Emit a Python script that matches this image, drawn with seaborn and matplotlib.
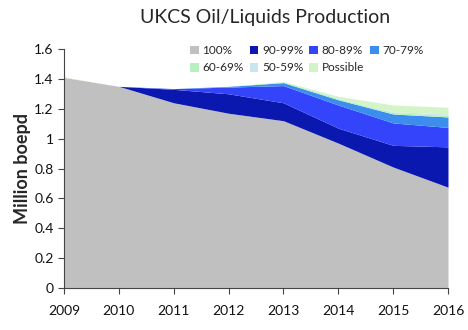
import matplotlib
matplotlib.use("Agg")
import matplotlib.pyplot as plt
import seaborn as sns
import pandas as pd
from matplotlib.ticker import FuncFormatter
from matplotlib.patches import Patch

years = [2009, 2010, 2011, 2012, 2013, 2014, 2015, 2016]
p100 = [1.41, 1.35, 1.24, 1.17, 1.12, 0.97, 0.81, 0.675]
p90_99 = [0.0, 0.0, 0.09, 0.13, 0.12, 0.10, 0.145, 0.27]
p80_89 = [0.0, 0.0, 0.005, 0.045, 0.115, 0.155, 0.15, 0.13]
p70_79 = [0.0, 0.0, 0.0, 0.005, 0.02, 0.035, 0.06, 0.07]
p60_69 = [0.0, 0.0, 0.0, 0.0, 0.005, 0.008, 0.01, 0.01]
p50_59 = [0.0, 0.0, 0.0, 0.0, 0.0, 0.003, 0.005, 0.01]
possible = [0.003, 0.0, 0.0, 0.0, 0.003, 0.012, 0.045, 0.045]
labels = ["100%", "90-99%", "80-89%", "70-79%", "60-69%", "50-59%", "Possible"]
colors = ["#C0C0C0", "#0A18B0", "#3444FA", "#3C8EEE", "#B6F0BE", "#C8E6EC", "#D2F4C6"]

df = pd.DataFrame({"year": years, "100%": p100, "90-99%": p90_99, "80-89%": p80_89,
                   "70-79%": p70_79, "60-69%": p60_69, "50-59%": p50_59, "Possible": possible})

sns.set_style("ticks")
plt.rcParams['font.family'] = ['Lato', 'DejaVu Sans']

fig = plt.figure(figsize=(4.68, 3.30), dpi=100)
ax = fig.add_axes([64/468, 1-288/330, (448-64)/468, (288-49)/330])

ax.stackplot(df["year"], [df[l] for l in labels], colors=colors, linewidth=0)

ax.set_xlim(2009, 2016)
ax.set_ylim(0, 1.6)
ax.set_xticks(years)
ax.set_yticks([0, 0.2, 0.4, 0.6, 0.8, 1.0, 1.2, 1.4, 1.6])
ax.yaxis.set_major_formatter(FuncFormatter(lambda v, p: f"{v:g}"))
ax.tick_params(axis='both', labelsize=10, length=4, width=0.8, color="#444444", labelcolor="#111111")
ax.tick_params(axis='x', pad=8)
sns.despine(ax=ax)
for s in ["left", "bottom"]:
    ax.spines[s].set_color("#444444")
    ax.spines[s].set_linewidth(0.8)

ax.set_ylabel("Million boepd", fontsize=13, fontweight="bold", labelpad=2)
fig.text(265/468, 1-18/330, "UKCS Oil/Liquids Production", ha="center", va="center", fontsize=14)

# legend filled row-wise: reorder for column-major filling
order = [0, 4, 1, 5, 2, 6, 3]
handles = [Patch(facecolor=colors[i], edgecolor="none") for i in order]
leg_labels = [labels[i] for i in order]
leg = fig.legend(handles, leg_labels, ncol=4, loc="upper left", bbox_to_anchor=(190/468, 1-45/330),
                 frameon=False, fontsize=8.5, handlelength=0.75, handleheight=0.75,
                 handletextpad=0.3, columnspacing=0.5, labelspacing=0.55, borderaxespad=0,
                 borderpad=0)

fig.savefig("out.png", dpi=100)
